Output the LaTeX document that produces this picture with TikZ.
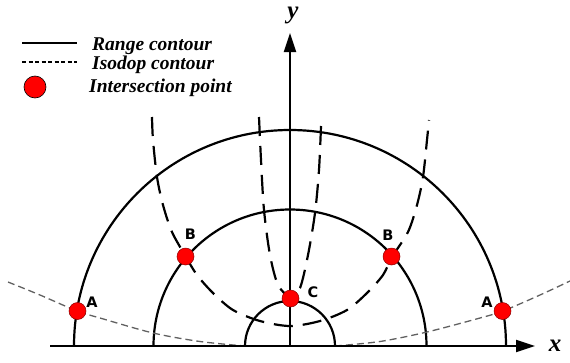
\documentclass[tikz,border=0pt]{standalone}
\usepackage{fontspec}
\setmainfont{Liberation Serif}
\newfontfamily\lblfont{DejaVu Sans}
\usetikzlibrary{arrows.meta}
\begin{document}
\begin{tikzpicture}[x=1pt,y=-1pt,
  contour/.style={line width=2.2pt},
  isodop/.style={line width=2.2pt, dash pattern=on 19pt off 10pt},
  isodopA/.style={line width=1.3pt, draw=black!62, dash pattern=on 7pt off 4pt},
  legdash/.style={line width=1.5pt, dash pattern=on 4pt off 2.5pt},
  axisline/.style={line width=2.2pt, -{Triangle[length=19pt,width=12pt]}},
  dot/.style={circle, fill=red, draw=red!55!black, line width=0.5pt, minimum size=17pt, inner sep=0pt},
  legdot/.style={circle, fill=red, draw=black, line width=0.6pt, minimum size=22pt, inner sep=0pt},
  ptlabel/.style={font=\lblfont\bfseries\fontsize{14.5}{15}\selectfont, inner sep=0pt},
  legtext/.style={font=\bfseries\itshape\fontsize{19.5}{20}\selectfont, anchor=base west, inner sep=0pt},
  axlabel/.style={font=\bfseries\itshape\fontsize{25}{26}\selectfont, anchor=base, inner sep=0pt}
]
\useasboundingbox (0,0) rectangle (570,362);
\coordinate (O) at (290,346);
\coordinate (xstart) at (50,346);
\coordinate (xend) at (535,346);
\coordinate (yend) at (290,33);

% range contours
\draw[contour] (O) ++(-45,0) arc[start angle=180,end angle=360,radius=45];
\draw[contour] (O) ++(-136.5,0) arc[start angle=180,end angle=360,radius=136.5];
\draw[contour] (O) ++(-216,0) arc[start angle=180,end angle=360,radius=216];

% isodop contours
\draw[isodopA] plot[smooth] coordinates {(8,282) (40,295) (77,311) (100,318) (153,333) (200,341.5) (245,346)};
\draw[isodopA] plot[smooth] coordinates {(335,346) (380,341.5) (427,332) (480,318) (503,311) (540,295) (570,281)};
\draw[isodop] plot[smooth] coordinates {(152,117) (153,140) (157,177) (163,205) (172,232) (186,257) (197,275) (213,293) (233,310) (260,321) (290,326) (320,321) (347,310) (367,293) (383,275) (392,257) (408,232) (417,205) (423,177) (427,140) (429,120)};
\draw[isodop] plot[smooth] coordinates {(259,117) (261,160) (264,210) (270,255) (278,285) (290,298)};
\draw[isodop] plot[smooth] coordinates {(321,126) (319,170) (315,213) (308,255) (300,288) (290,298)};

% axes
\draw[axisline] (xstart) -- (xend);
\draw[axisline] (O) -- (yend);
\node[axlabel] (xlab) at (555,351) {x};
\node[axlabel] (ylab) at (293,18.5) {y};

% intersection points
\node[dot] (A1) at (77.5,311) {};
\node[dot] (A2) at (502.5,311) {};
\node[dot] (B1) at (185.5,256.5) {};
\node[dot] (B2) at (391.5,256.5) {};
\node[dot] (C) at (290.5,298.5) {};
\node[ptlabel] (lA1) at (92,302.5) {A};
\node[ptlabel] (lA2) at (487,302.5) {A};
\node[ptlabel] (lB1) at (190.5,234.5) {B};
\node[ptlabel] (lB2) at (388,235) {B};
\node[ptlabel] (lC) at (313,292.5) {C};

% legend
\coordinate (ls1) at (22,43);
\coordinate (ls2) at (77,43);
\coordinate (ld1) at (22,62);
\coordinate (ld2) at (77,62);
\draw[contour] (ls1) -- (ls2);
\draw[legdash] (ld1) -- (ld2);
\node[legdot] (legC) at (35,87) {};
\node[legtext] (t1) at (92,50) {Range contour};
\node[legtext] (t2) at (92,69) {Isodop contour};
\node[legtext] (t3) at (89,92) {Intersection point};
\end{tikzpicture}
\end{document}
